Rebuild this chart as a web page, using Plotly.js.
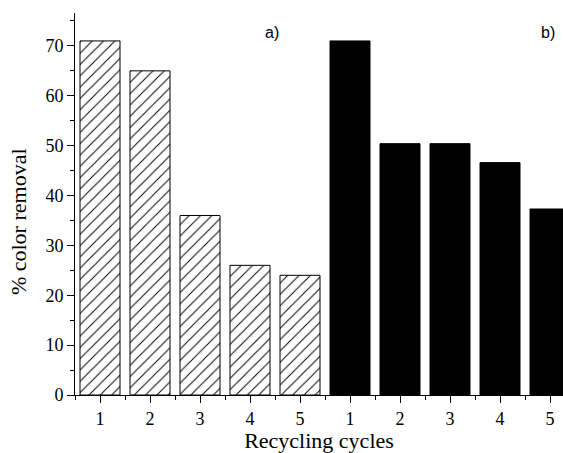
<!DOCTYPE html>
<html>
<head>
<meta charset="utf-8">
<script src="https://cdn.plot.ly/plotly-3.0.1.min.js"></script>
<style>html,body{margin:0;padding:0;background:#fff;}#chart{width:563px;height:453px;}</style>
</head>
<body>
<div id="chart"></div>
<script>
// Data
const cyclesA = ["1", "2", "3", "4", "5"];
const cyclesB = ["1", "2", "3", "4", "5"];
const removalA = [71, 65, 36, 26, 24];
const removalB = [71, 50.4, 50.4, 46.6, 37.3];
const panelLabels = ["a)", "b)"];
const xTitle = "Recycling cycles";
const yTitle = "% color removal";

const xA = cyclesA.map((_, i) => i);
const xB = cyclesB.map((_, i) => i + cyclesA.length);
const tickText = cyclesA.concat(cyclesB);
const tickVals = xA.concat(xB);

const serif = "Liberation Serif";
const sans = "Liberation Sans";

const traces = [
  {
    type: "bar", x: xA, y: removalA, width: 0.8,
    marker: {
      color: "white",
      line: {color: "black", width: 1},
      pattern: {shape: "/", fgcolor: "black", bgcolor: "white", size: 8, solidity: 0.12}
    },
    hoverinfo: "skip", showlegend: false
  },
  {
    type: "bar", x: xB, y: removalB, width: 0.8,
    marker: {color: "black", line: {color: "black", width: 1}},
    hoverinfo: "skip", showlegend: false
  }
];

const xRange = [-0.5, 9.26];

const layout = {
  width: 563, height: 453,
  margin: {l: 75, r: 0, t: 13, b: 58, pad: 0},
  paper_bgcolor: "white", plot_bgcolor: "white",
  barmode: "overlay",
  showlegend: false,
  xaxis: {
    range: xRange, tickmode: "array", tickvals: tickVals, ticktext: tickText,
    ticks: "outside", ticklen: 7, tickwidth: 1, tickcolor: "black",
    minor: {ticks: "outside", tickmode: "linear", tick0: 0.5, dtick: 1, ticklen: 4, tickwidth: 1, tickcolor: "black"},
    showline: true, linecolor: "black", linewidth: 1,
    showgrid: false, zeroline: false,
    tickfont: {family: serif, size: 18, color: "black"},
    title: {text: xTitle, font: {family: serif, size: 22, color: "black"}, standoff: 2}
  },
  xaxis2: {
    overlaying: "x", side: "top", anchor: "y", range: xRange,
    tickmode: "linear", tick0: -0.5, dtick: 0.5,
    ticks: "inside", ticklen: 3, tickwidth: 1, tickcolor: "black",
    showticklabels: false, showline: true, linecolor: "black", linewidth: 1,
    showgrid: false, zeroline: false
  },
  yaxis: {
    range: [0, 76.6], tickmode: "linear", tick0: 0, dtick: 10,
    ticks: "outside", ticklen: 7, tickwidth: 1, tickcolor: "black",
    minor: {ticks: "outside", dtick: 5, ticklen: 4, tickwidth: 1, tickcolor: "black"},
    showline: true, linecolor: "black", linewidth: 1,
    showgrid: false, zeroline: false,
    tickfont: {family: serif, size: 18, color: "black"}
  },
  annotations: [
    {text: yTitle, textangle: -90, xref: "paper", yref: "paper", x: -0.117, y: 0.455,
     showarrow: false, xanchor: "center", yanchor: "middle", font: {family: serif, size: 22, color: "black"}},
    {text: panelLabels[0], xref: "x", yref: "paper", x: 3.44, y: 0.948,
     showarrow: false, xanchor: "center", yanchor: "middle", font: {family: sans, size: 16, color: "black"}},
    {text: panelLabels[1], xref: "x", yref: "paper", x: 8.96, y: 0.948,
     showarrow: false, xanchor: "center", yanchor: "middle", font: {family: sans, size: 16, color: "black"}}
  ]
};

Plotly.newPlot("chart", traces, layout, {staticPlot: true, displayModeBar: false});
</script>
</body>
</html>
